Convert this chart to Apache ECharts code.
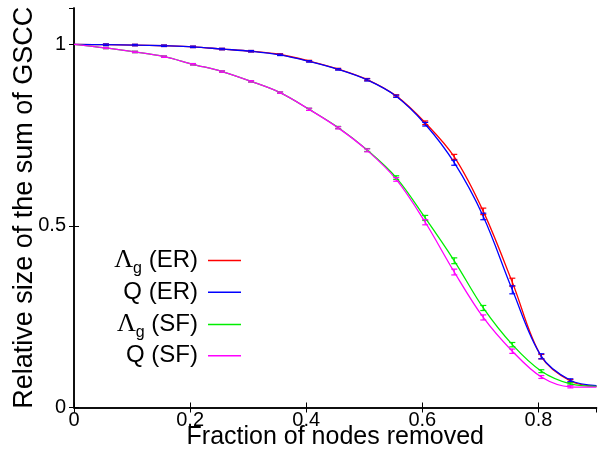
<!DOCTYPE html>
<html>
<head>
<meta charset="utf-8">
<script src="https://cdn.jsdelivr.net/npm/echarts@6/dist/echarts.min.js"></script>
<style>html,body{margin:0;padding:0;background:#fff;}#c{width:598px;height:451px;}</style>
</head>
<body>
<div id="c"></div>
<script>
// Fraction of nodes removed
var xs = [0, 0.055, 0.105, 0.155, 0.205, 0.255, 0.305, 0.355, 0.405, 0.455, 0.505, 0.555, 0.605, 0.655, 0.705, 0.755, 0.805, 0.855, 0.9];
// Relative size of the sum of GSCC
var lambdaER = [1.0, 0.999, 0.998, 0.996, 0.993, 0.987, 0.981, 0.972, 0.954, 0.932, 0.903, 0.858, 0.784, 0.690, 0.540, 0.345, 0.140, 0.073, 0.058];
var qER      = [1.0, 0.999, 0.998, 0.996, 0.993, 0.987, 0.981, 0.971, 0.953, 0.931, 0.902, 0.857, 0.780, 0.674, 0.526, 0.324, 0.141, 0.075, 0.060];
var lambdaSF = [1.0, 0.990, 0.979, 0.966, 0.945, 0.925, 0.898, 0.867, 0.821, 0.771, 0.709, 0.633, 0.522, 0.404, 0.274, 0.173, 0.100, 0.065, 0.058];
var qSF      = [1.0, 0.990, 0.979, 0.966, 0.945, 0.925, 0.898, 0.867, 0.821, 0.770, 0.708, 0.628, 0.510, 0.373, 0.248, 0.155, 0.084, 0.057, 0.056];
// half-length of error bars
var lambdaERErr = [0, 0.002, 0.002, 0.002, 0.002, 0.002, 0.002, 0.002, 0.002, 0.002, 0.003, 0.003, 0.005, 0.007, 0.009, 0.011, 0.006, 0.004, 0];
var qERErr      = [0, 0.002, 0.002, 0.002, 0.002, 0.002, 0.002, 0.002, 0.002, 0.002, 0.003, 0.003, 0.005, 0.007, 0.009, 0.011, 0.007, 0.004, 0];
var lambdaSFErr = [0, 0.002, 0.002, 0.002, 0.002, 0.002, 0.002, 0.002, 0.003, 0.003, 0.004, 0.005, 0.007, 0.008, 0.007, 0.006, 0.004, 0.003, 0];
var qSFErr      = [0, 0.002, 0.002, 0.002, 0.002, 0.002, 0.002, 0.002, 0.003, 0.003, 0.004, 0.005, 0.007, 0.008, 0.007, 0.006, 0.004, 0.003, 0];
var xTicks = [0, 0.2, 0.4, 0.6, 0.8];
var yTicks = [0, 0.5, 1];

var names = ['Λg (ER)', 'Q (ER)', 'Λg (SF)', 'Q (SF)'];
var colors = ['#ff0000', '#0000ff', '#00ee00', '#ff00ff'];
var values = [lambdaER, qER, lambdaSF, qSF];
var errs = [lambdaERErr, qERErr, lambdaSFErr, qSFErr];
var legendLabel = {
  'Λg (ER)': '{l|Λ}{s|g}{t| (ER)}',
  'Q (ER)': '{t|Q (ER)}',
  'Λg (SF)': '{l|Λ}{s|g}{t| (SF)}',
  'Q (SF)': '{t|Q (SF)}'
};

var FONT = 'Liberation Sans, Arial, sans-serif';
var series = [];
var legends = [];
var legendCenters = [260, 292.3, 324, 355.7];
names.forEach(function (n, i) {
  series.push({
    name: n, type: 'line', smooth: 0.35, symbol: 'none',
    data: xs.map(function (x, k) { return [x, values[i][k]]; }),
    lineStyle: { color: colors[i], width: 1.3 },
    itemStyle: { color: colors[i] },
    z: 2
  });
  series.push({
    name: n + ' err', type: 'custom',
    data: xs.map(function (x, k) { return [x, values[i][k], errs[i][k]]; }).filter(function (d) { return d[2] > 0; }),
    renderItem: function (params, api) {
      var x = api.value(0), y = api.value(1), e = api.value(2);
      var p1 = api.coord([x, y - e]);
      var p2 = api.coord([x, y + e]);
      var w = 3;
      var st = { stroke: colors[i], lineWidth: 1.2 };
      return { type: 'group', children: [
        { type: 'line', shape: { x1: p1[0], y1: p1[1], x2: p2[0], y2: p2[1] }, style: st },
        { type: 'line', shape: { x1: p1[0] - w, y1: p1[1], x2: p1[0] + w, y2: p1[1] }, style: st },
        { type: 'line', shape: { x1: p2[0] - w, y1: p2[1], x2: p2[0] + w, y2: p2[1] }, style: st }
      ]};
    },
    z: 3, silent: true
  });
  var isLambda = n.charAt(0) === 'Λ';
  legends.push({
    data: [n], right: 357, top: legendCenters[i] - (isLambda ? 16 : 12),
    padding: 0, align: 'right', itemWidth: 33, itemHeight: 1.5,
    icon: 'rect',
    selectedMode: false,
    formatter: function (name) { return legendLabel[name]; },
    textStyle: {
      color: '#000', fontFamily: FONT, fontSize: 24,
      rich: {
        t: { fontFamily: FONT, fontSize: 24, lineHeight: 24, color: '#000', padding: [0, 5, 0, 0] },
        l: { fontFamily: 'Liberation Serif, serif', fontSize: 26, lineHeight: 24, color: '#000' },
        s: { fontFamily: FONT, fontSize: 16, lineHeight: 15, color: '#000', padding: [17, 0, 0, 0] }
      }
    }
  });
});

var axisLineStyle = { color: '#000', width: 1.5 };
var option = {
  animation: false,
  backgroundColor: '#fff',
  legend: legends,
  grid: { left: 74, right: 1.5, top: 8, bottom: 43.5, containLabel: false, outerBoundsMode: 'none' },
  xAxis: [{
    type: 'value', min: 0, max: 0.9, interval: 0.2, position: 'bottom',
    name: 'Fraction of nodes removed', nameLocation: 'middle', nameGap: 17, nameMoveOverlap: false,
    nameTextStyle: { fontFamily: FONT, fontSize: 25, color: '#000' },
    axisLine: { show: true, lineStyle: axisLineStyle },
    axisTick: { inside: true, length: 5, lineStyle: { color: '#000', width: 1 } },
    axisLabel: { fontFamily: FONT, fontSize: 20, color: '#000', margin: 3, showMaxLabel: false,
      formatter: function (v) { return xTicks.indexOf(v) >= 0 ? String(v) : ''; } },
    splitLine: { show: false }
  }, {
    type: 'value', min: 0, max: 0.9, interval: 0.2, position: 'top',
    axisLine: { show: true, lineStyle: axisLineStyle },
    axisTick: { inside: true, length: 5, lineStyle: { color: '#000', width: 1 } },
    axisLabel: { show: false }, splitLine: { show: false }
  }],
  yAxis: [{
    type: 'value', min: 0, max: 1.1, interval: 0.5, position: 'left',
    name: 'Relative size of the sum of GSCC', nameLocation: 'middle', nameGap: 36, nameMoveOverlap: false,
    nameTextStyle: { fontFamily: FONT, fontSize: 27, color: '#000' },
    axisLine: { show: true, lineStyle: axisLineStyle },
    axisTick: { inside: true, length: 5, lineStyle: { color: '#000', width: 1 } },
    axisLabel: { fontFamily: FONT, fontSize: 20, color: '#000', margin: 8, showMaxLabel: false,
      formatter: function (v) { return yTicks.indexOf(v) >= 0 ? String(v) : ''; } },
    splitLine: { show: false }
  }, {
    type: 'value', min: 0, max: 1.1, interval: 0.5, position: 'right',
    axisLine: { show: true, lineStyle: axisLineStyle },
    axisTick: { inside: true, length: 5, lineStyle: { color: '#000', width: 1 } },
    axisLabel: { show: false }, splitLine: { show: false }
  }],
  series: series
};
var chart = echarts.init(document.getElementById('c'), null, { renderer: 'canvas' });
chart.setOption(option);
</script>
</body>
</html>
